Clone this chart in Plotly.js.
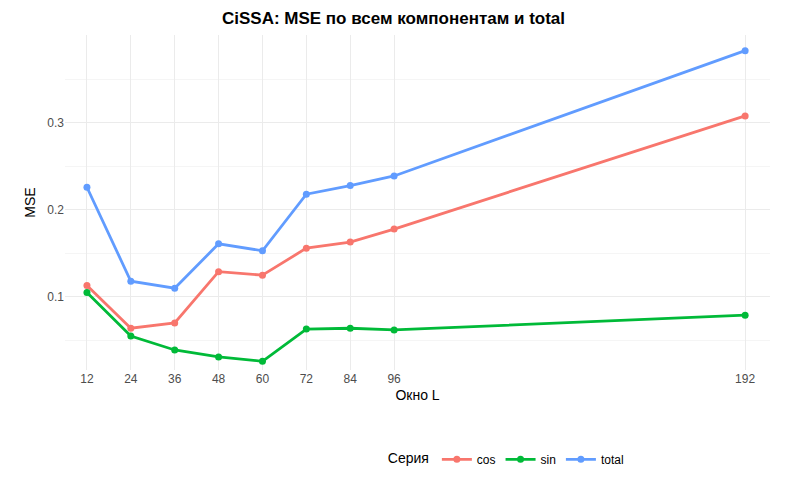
<!DOCTYPE html>
<html><head><meta charset="utf-8">
<script src="https://cdn.plot.ly/plotly-3.0.1.min.js"></script>
<style>body{margin:0}</style></head><body>
<div id="c" style="width:787px;height:486px"></div>
<script>
const L = [12,24,36,48,60,72,84,96,192];
const cosV = [0.113,0.064,0.070,0.129,0.125,0.156,0.163,0.178,0.308];
const sinV = [0.105,0.055,0.039,0.031,0.026,0.063,0.064,0.062,0.079];
const totalV = [0.226,0.118,0.110,0.161,0.153,0.218,0.228,0.239,0.383];
const series = [["cos",cosV,"#F8766D"],["sin",sinV,"#00BA38"],["total",totalV,"#619CFF"]];
const traces = series.map(([n,v,c])=>({x:L,y:v,name:n,type:"scatter",mode:"lines+markers",
  line:{color:c,width:2.8},marker:{color:c,size:7},legend:"legend2"}));
traces.push({x:[-100,-90],y:[0.2,0.2],name:"CiSSA",type:"scatter",mode:"lines",line:{color:"black",width:2.8},legend:"legend",hoverinfo:"skip"});
const f = {family:"Liberation Sans, Arial, sans-serif"};
Plotly.newPlot("c",traces,{
  width:787,height:486,paper_bgcolor:"white",plot_bgcolor:"white",
  margin:{l:65,r:17,t:35,b:116},
  font:{...f,size:12,color:"#4d4d4d"},
  title:{text:"<b>CiSSA: MSE по всем компонентам и total</b>",x:0.5,xanchor:"center",y:0.975,font:{...f,size:17,color:"black"}},
  xaxis:{range:[6,198.8],tickvals:L,ticktext:L.map(String),showgrid:true,gridcolor:"#ebebeb",zeroline:false,
    title:{text:"Окно L",font:{...f,size:14,color:"black"},standoff:5},tickfont:{...f,size:12,color:"#4d4d4d"},ticks:""},
  yaxis:{range:[0.016,0.401],tickvals:[0.1,0.2,0.3],ticktext:["0.1","0.2","0.3"],showgrid:true,gridcolor:"#ebebeb",zeroline:false,
    minor:{tickvals:[0.05,0.15,0.25,0.35],showgrid:true,gridcolor:"#f5f5f5"},
    title:{text:"MSE",font:{...f,size:14,color:"black"},standoff:8},tickfont:{...f,size:12,color:"#4d4d4d"},ticks:""},
  legend:{orientation:"h",yref:"container",x:0.195,xanchor:"left",y:0.025,yanchor:"bottom",title:{text:"Метод",font:{...f,size:14,color:"black"}},font:{...f,size:12,color:"black"}},
  legend2:{orientation:"h",yref:"container",x:0.455,xanchor:"left",y:0.025,yanchor:"bottom",title:{text:"Серия",font:{...f,size:14,color:"black"}},font:{...f,size:12,color:"black"}}
},{displayModeBar:false});
</script></body></html>
